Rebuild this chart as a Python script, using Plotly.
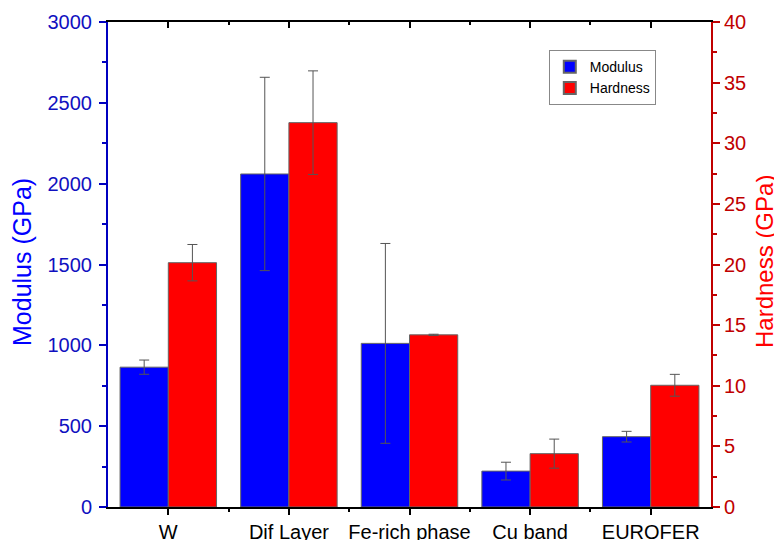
import plotly.graph_objects as go

categories = ["W", "Dif Layer", "Fe-rich phase", "Cu band", "EUROFER"]
modulus = [865, 2060, 1012, 222, 435]
modulus_err = [44, 598, 618, 55, 33]
hardness = [20.15, 31.7, 14.2, 4.4, 10.04]
hardness_err = [1.5, 4.27, 0.05, 1.2, 0.9]

xpos = list(range(len(categories)))
FONT = "Liberation Sans, Arial, sans-serif"

fig = go.Figure()
fig.add_trace(go.Bar(
    x=xpos, y=modulus, name="Modulus", yaxis="y", xaxis="x",
    width=0.4, offset=-0.4,
    marker=dict(color="#0000FF", line=dict(color="#666666", width=1)),
    error_y=dict(type="data", array=modulus_err, color="#555555", thickness=1, width=5),
))
fig.add_trace(go.Bar(
    x=xpos, y=hardness, name="Hardness", yaxis="y2", xaxis="x",
    width=0.4, offset=0.0,
    marker=dict(color="#FF0000", line=dict(color="#666666", width=1)),
    error_y=dict(type="data", array=hardness_err, color="#555555", thickness=1, width=5),
))
# empty trace to anchor the mirrored top axis
fig.add_trace(go.Scatter(x=[], y=[], xaxis="x2", yaxis="y", showlegend=False))

fig.update_layout(
    width=774, height=532,
    margin=dict(l=100, r=71, t=14, b=33),
    paper_bgcolor="white", plot_bgcolor="white",
    font=dict(family=FONT, size=20, color="black"),
    showlegend=True,
    legend=dict(
        x=0.731, y=0.942, xanchor="left", yanchor="top",
        bordercolor="#888888", borderwidth=1, bgcolor="white",
        font=dict(family=FONT, size=14, color="black"),
        tracegroupgap=0, itemsizing="constant",
    ),
    xaxis=dict(
        range=[-0.5, 4.5], tickmode="array", tickvals=xpos, ticktext=categories,
        showline=True, linecolor="black", linewidth=2, automargin=False,
        ticks="outside", ticklen=6, tickwidth=2, tickcolor="black",
        minor=dict(tickmode="array", tickvals=[0.5, 1.5, 2.5, 3.5], ticks="outside", ticklen=3, tickwidth=2, tickcolor="black"),
        showgrid=False, zeroline=False,
        tickfont=dict(family=FONT, size=20, color="black"),
    ),
    xaxis2=dict(
        overlaying="x", side="top", anchor="y", matches="x", automargin=False,
        range=[-0.5, 4.5], tickmode="array", tickvals=xpos,
        showticklabels=False,
        showline=True, linecolor="black", linewidth=2,
        ticks="inside", ticklen=6, tickwidth=2, tickcolor="black",
        minor=dict(tickmode="array", tickvals=[0.5, 1.5, 2.5, 3.5], ticks="inside", ticklen=3, tickwidth=2, tickcolor="black"),
        showgrid=False, zeroline=False,
    ),
    yaxis=dict(
        range=[0, 3000], tickmode="linear", tick0=0, dtick=500, automargin=False,
        showline=True, linecolor="#0000C0", linewidth=2,
        ticks="outside", ticklen=7, tickwidth=2, tickcolor="#0000C0",
        minor=dict(dtick=250, ticks="outside", ticklen=4, tickwidth=2, tickcolor="#0000C0"),
        showgrid=False, zeroline=False, ticklabelstandoff=3,
        tickfont=dict(family=FONT, size=20, color="#1010C0"),
    ),
    yaxis2=dict(
        overlaying="y", side="right", anchor="x", automargin=False,
        range=[0, 40], tickmode="linear", tick0=0, dtick=5,
        showline=True, linecolor="#C00000", linewidth=2,
        ticks="outside", ticklen=7, tickwidth=2, tickcolor="#C00000",
        minor=dict(dtick=2.5, ticks="outside", ticklen=4, tickwidth=2, tickcolor="#C00000"),
        showgrid=False, zeroline=False,
        tickfont=dict(family=FONT, size=20, color="#C00000"),
    ),
    annotations=[
        dict(text="Modulus (GPa)", textangle=-90, xref="paper", yref="paper",
             x=(22 - 108) / 603, y=(507 - 262) / 485, xanchor="center", yanchor="middle",
             showarrow=False, font=dict(family=FONT, size=25, color="#0000FF")),
        dict(text="Hardness (GPa)", textangle=-90, xref="paper", yref="paper",
             x=(764 - 108) / 603, y=(507 - 262) / 485, xanchor="center", yanchor="middle",
             showarrow=False, font=dict(family=FONT, size=24, color="#FF0000")),
    ],
)

fig.write_html("out.html")
